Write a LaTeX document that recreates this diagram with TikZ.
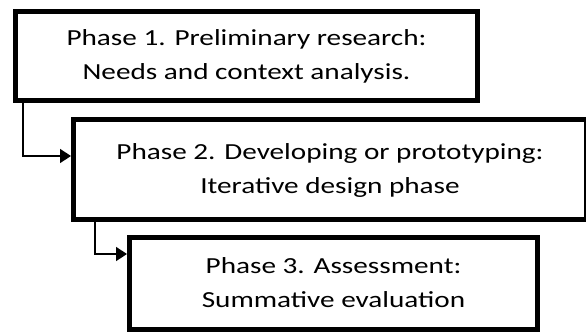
\documentclass[tikz,border=0pt]{standalone}
\usepackage{graphicx}
\usepackage{fontspec}
\setmainfont{Carlito}
\usetikzlibrary{arrows.meta}
% Chữ giãn ngang, hai dòng
\newcommand{\phasetext}[2]{\raisebox{-4pt}{\scalebox{1.27}[1]{\begin{tabular}{@{}c@{}}#1\\#2\end{tabular}}}}
\begin{document}
\begin{tikzpicture}[x=1pt, y=-1pt, line join=miter, >={Triangle[length=11pt, width=14pt]},
	phase/.style={draw, line width=5pt, inner sep=0pt, font=\fontsize{23}{34}\selectfont},
	conn/.style={->, line width=1.5pt}]
	% Khung hình
	\useasboundingbox (0,0) rectangle (586,333);
	
	% Ba giai đoạn
	\node[phase, minimum width=462pt, minimum height=89pt] (p1) at (246.5,56) {\phasetext{Phase 1. Preliminary research:}{Needs and context analysis.}};
	\node[phase, minimum width=513pt, minimum height=100pt] (p2) at (330,169.5) {\phasetext{Phase 2. Developing or prototyping:}{Iterative design phase}};
	\node[phase, minimum width=408pt, minimum height=92pt] (p3) at (333.5,283.5) {\phasetext{Phase 3. Assessment:}{Summative evaluation}};
	
	% Mũi tên nối
	\draw[conn] ([xshift=10pt]p1.south west) |- ([yshift=13.5pt]p2.west);
	\draw[conn] ([xshift=24pt]p2.south west) |- ([yshift=29.5pt]p3.west);
\end{tikzpicture}
\end{document}
